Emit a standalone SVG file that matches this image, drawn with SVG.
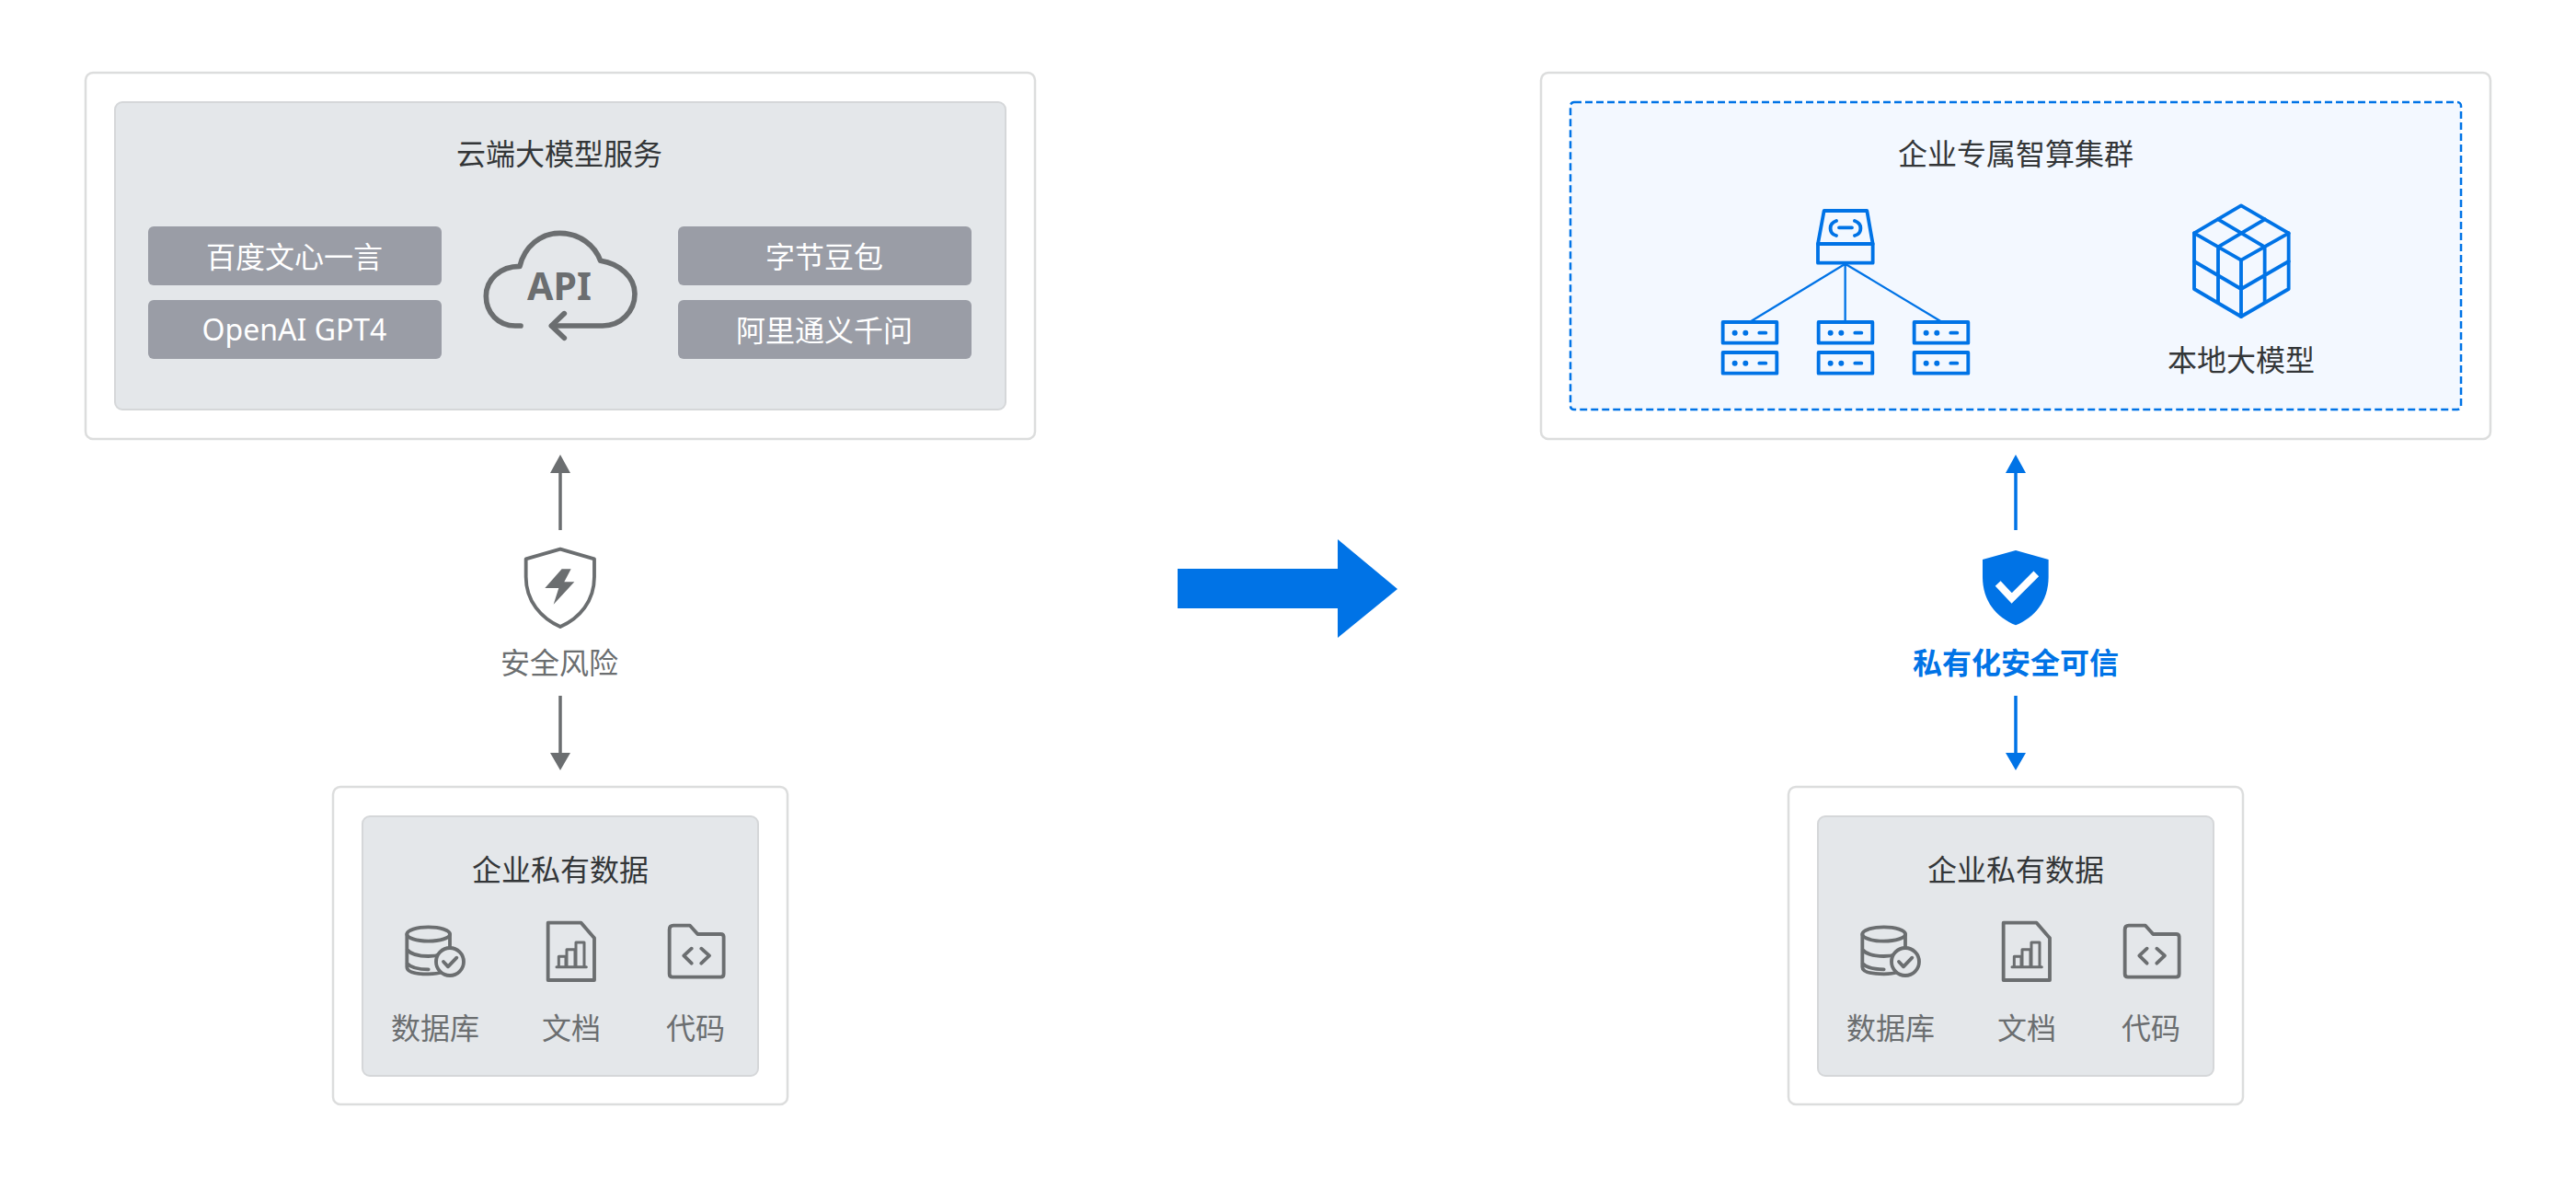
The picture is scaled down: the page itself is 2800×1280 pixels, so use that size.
<svg xmlns="http://www.w3.org/2000/svg" xmlns:xlink="http://www.w3.org/1999/xlink" width="2800" height="1280" viewBox="0 0 2800 1280">
<style>
text{font-family:"Noto Sans CJK SC","Noto Sans",sans-serif;font-size:32px;text-anchor:middle}
.latin{font-family:"Noto Sans","Noto Sans CJK SC",sans-serif}
.outer{fill:#fff;stroke:#dcdddd;stroke-width:2.5}
.inner{fill:#e4e7ea;stroke:#d5d7d9;stroke-width:2}
.btn{fill:#9a9da6}
.dark{fill:#333638}
.grey{fill:#6b6e70}
.white{fill:#fff}
.blue{fill:#0073e6}
.gs{fill:none;stroke:#6b6e70;stroke-width:11.5;stroke-linejoin:round;stroke-linecap:round}
.bs{fill:none;stroke:#0073e6;stroke-width:11.5;stroke-linejoin:round;stroke-linecap:round}
.gl{stroke:#6b6e70;stroke-width:3.5}
.bl{stroke:#0073e6;stroke-width:3.5}
</style>
<defs>
<g id="data-box">
<rect class="outer" x="362" y="855" width="494" height="345" rx="8"/>
<rect class="inner" x="394" y="887" width="430" height="282" rx="8"/>
<text class="dark" x="609" y="957">企业私有数据</text>
<g transform="translate(420 990) scale(.3333)">
<ellipse class="gs" cx="137" cy="75" rx="70" ry="23"/>
<path class="gs" d="M67 75V182Q67 205 137 205Q165 205 185 198M207 75V120M67 125Q85 147 137 147Q160 147 178 140M67 170Q85 190 137 190"/>
<circle cx="207" cy="165" r="45" fill="#e4e7ea" stroke="#6b6e70" stroke-width="11.5"/>
<path class="gs" d="M186 165L201 181L229 152"/>
</g>
<g transform="translate(580 990) scale(.3333)">
<path class="gs" d="M47 38H155L198 88V225H47Z"/>
<path class="gs" d="M75 182H172M82 182V148H105V182M108 182V125H135V182M138 182V102H165V182" style="stroke-width:9"/>
<path class="gs" d="M443 60Q443 47 456 47H510L535 75H610Q620 75 620 85V205Q620 215 610 215H453Q443 215 443 205Z"/>
<path class="gs" d="M515 122L490 145L515 170M547 122L573 145L547 170"/>
</g>
<text class="grey" x="473" y="1129">数据库</text>
<text class="grey" x="621" y="1129">文档</text>
<text class="grey" x="756" y="1129">代码</text>
</g>
<g id="server">
<rect class="bs" x="68" y="420" width="176" height="68"/>
<circle class="blue" cx="107" cy="455" r="9"/>
<circle class="blue" cx="142" cy="455" r="9"/>
<path class="bs" d="M187 455H208"/>
</g>
</defs>

<g id="cloud-service">
<rect class="outer" x="93" y="79" width="1032" height="398" rx="8"/>
<rect class="inner" x="125" y="111" width="968" height="334" rx="8"/>
<text class="dark" x="608" y="179">云端大模型服务</text>
</g>
<g id="model-baidu">
<rect class="btn" x="161" y="246" width="319" height="64" rx="6"/>
<text class="white" x="320" y="291">百度文心一言</text>
</g>
<g id="model-openai">
<rect class="btn" x="161" y="326" width="319" height="64" rx="6"/>
<text class="white latin" x="320" y="370">OpenAI GPT4</text>
</g>
<g id="model-bytedance">
<rect class="btn" x="737" y="246" width="319" height="64" rx="6"/>
<text class="white" x="896" y="291">字节豆包</text>
</g>
<g id="model-ali">
<rect class="btn" x="737" y="326" width="319" height="64" rx="6"/>
<text class="white" x="896" y="371">阿里通义千问</text>
</g>
<g id="api-cloud">
<g transform="translate(510 230) scale(.3333)">
<path class="gs" d="M168 372H150C95 372 55 330 55 275C55 222 100 178 165 178C180 115 232 70 295 70C360 70 410 110 428 160C490 170 540 212 540 268C540 325 495 372 435 372H270" style="stroke-width:17"/>
<path class="gs" d="M310 332L268 372L310 412" style="stroke-width:17"/>
</g>
<text x="608" y="326" font-weight="700" style="font-size:41px" class="grey latin">API</text>
</g>

<g id="enterprise-cluster">
<rect class="outer" x="1675" y="79" width="1032" height="398" rx="8"/>
<rect x="1707" y="111" width="968" height="334" rx="4" fill="#f3f8ff" stroke="#0073e6" stroke-width="2.5" stroke-dasharray="8 4"/>
<text class="dark" x="2191" y="179">企业专属智算集群</text>
</g>
<g id="cluster-network" transform="translate(1850 210) scale(.3333)">
<path class="bs" d="M398 57H538L557 165V227H378V165Z"/>
<path class="bs" d="M378 165H557"/>
<path class="bs" d="M438 90C410 100 415 132 438 138M498 90C526 100 521 132 498 138M447 112H489"/>
<path class="bs" d="M467 230L160 417M467 230V417M467 230L778 417" style="stroke-width:7"/>
<use xlink:href="#server"/>
<use xlink:href="#server" y="99"/>
<use xlink:href="#server" x="312"/>
<use xlink:href="#server" x="312" y="99"/>
<use xlink:href="#server" x="624"/>
<use xlink:href="#server" x="624" y="99"/>
</g>
<g id="local-model">
<g transform="translate(2360 210) scale(.3333)">
<path class="bs" d="M228 40L383 130V312L228 402L75 312V130Z"/>
<path class="bs" d="M75 130L228 218L383 130M228 218V402M153 85L305 175M305 85L153 175M153 175V355M305 175V355M75 222L228 312L383 222"/>
</g>
<text class="dark" x="2436" y="403">本地大模型</text>
</g>

<g id="risk-badge">
<g transform="translate(500 480) scale(.3333)">
<path class="gs" d="M327 350L438 382V440C438 520 390 575 327 603C265 575 215 520 215 440V382Z"/>
<path class="grey" d="M332 415H362L340 457H373L305 530L322 477H277Z"/>
</g>
<text class="grey" x="608" y="732">安全风险</text>
</g>
<g id="trust-badge">
<g transform="translate(2060 480) scale(.3333)">
<path class="blue" d="M393 354L500 384V440C500 520 455 572 393 598C330 572 285 520 285 440V384Z"/>
<path d="M335 462L380 510L460 430" fill="none" stroke="#fff" stroke-width="24"/>
</g>
<text class="blue" x="2191" y="732" font-weight="700">私有化安全可信</text>
</g>

<g id="data-left"><use xlink:href="#data-box"/></g>
<g id="data-right"><use xlink:href="#data-box" x="1582"/></g>

<g id="connectors">
<path class="gl" d="M609 576V510M609 756V822"/>
<path class="grey" d="M609 494L620 514H598ZM609 837L620 818H598Z"/>
<path class="bl" d="M2191 576V510M2191 756V822"/>
<path class="blue" d="M2191 494L2202 514H2180ZM2191 837L2202 818H2180Z"/>
<path class="blue" d="M1280 618H1454V586L1519 640L1454 693V661H1280Z"/>
</g>
</svg>
